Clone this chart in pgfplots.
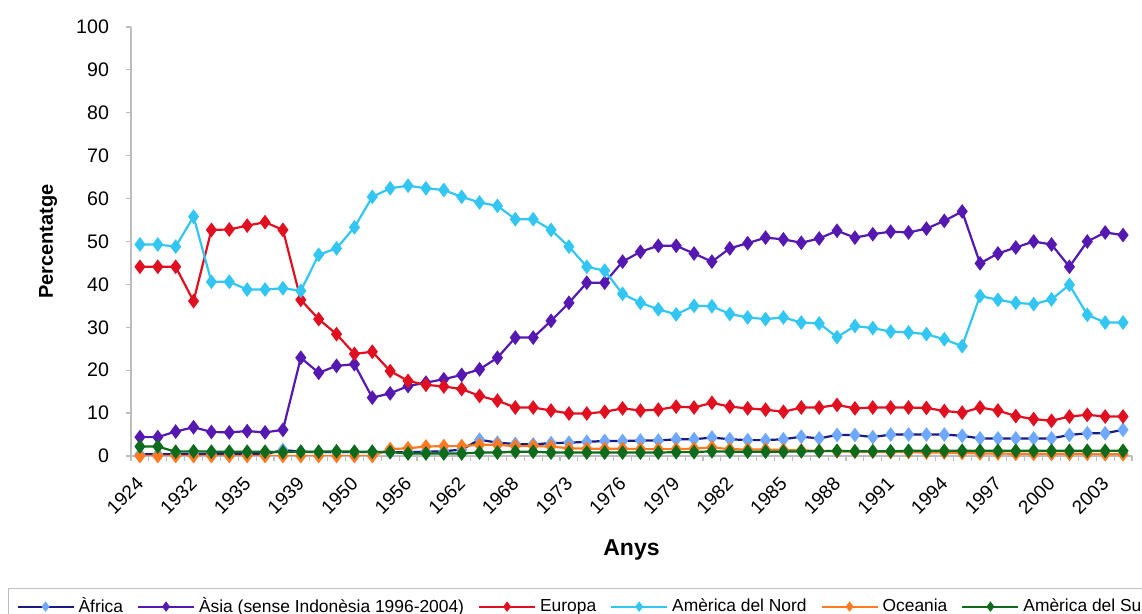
\documentclass[border=0pt]{standalone}
\usepackage{fontspec}
\setmainfont{Liberation Sans}
\usepackage{pgfplots}
\usepackage{pgfplotstable}
\pgfplotsset{compat=1.18}
\definecolor{afline}{HTML}{1A1A80}
\definecolor{afmark}{HTML}{6FA8FF}
\definecolor{asia}{HTML}{5518B0}
\definecolor{euro}{HTML}{E01020}
\definecolor{nord}{HTML}{33C6F2}
\definecolor{ocea}{HTML}{FF7A22}
\definecolor{sud}{HTML}{0E6B1C}
\definecolor{axgray}{HTML}{BDBDBD}

\pgfplotstableread{
x af as eu na oc sa
0 0.4 4.4 44.1 49.3 0.0 2.2
1 0.4 4.4 44.1 49.3 0.0 2.2
2 0.4 5.7 44.1 48.8 0.0 1.0
3 0.4 6.7 36.1 55.8 0.0 1.1
4 0.4 5.6 52.7 40.6 0.0 1.0
5 0.4 5.5 52.8 40.6 0.0 1.0
6 0.4 5.8 53.7 38.8 0.0 1.0
7 0.4 5.5 54.5 38.8 0.0 1.0
8 1.4 6.1 52.7 39.1 0.0 0.9
9 1.0 22.9 36.4 38.5 0.0 1.0
10 0.9 19.4 31.9 46.9 0.0 1.0
11 0.9 21.0 28.4 48.4 0.0 1.1
12 0.9 21.4 23.8 53.3 0.0 1.0
13 0.9 13.6 24.3 60.4 0.0 1.0
14 0.9 14.6 19.8 62.4 1.6 0.9
15 0.9 16.3 17.5 63.0 1.8 0.6
16 1.0 17.1 16.6 62.4 2.2 0.6
17 1.1 17.9 16.2 62.0 2.3 0.6
18 1.5 18.9 15.6 60.4 2.3 0.6
19 3.8 20.2 14.0 59.1 2.6 0.8
20 3.1 22.9 12.9 58.3 2.6 0.8
21 2.8 27.6 11.3 55.2 2.3 1.0
22 2.7 27.6 11.3 55.2 2.3 1.0
23 3.0 31.5 10.6 52.7 2.2 0.8
24 3.1 35.7 9.9 48.8 1.8 0.8
25 3.3 40.4 9.9 44.1 1.7 0.8
26 3.5 40.4 10.3 43.2 1.7 0.8
27 3.5 45.3 11.1 37.8 1.7 0.8
28 3.6 47.6 10.6 35.7 1.6 0.8
29 3.6 49.0 10.8 34.2 1.6 0.8
30 3.9 49.0 11.5 33.0 1.6 0.9
31 3.9 47.2 11.3 35.0 1.7 0.9
32 4.3 45.3 12.4 34.9 2.0 1.1
33 3.9 48.4 11.5 33.1 1.6 1.0
34 3.7 49.6 11.1 32.3 1.5 1.0
35 3.7 50.9 10.8 31.9 1.5 1.0
36 3.9 50.5 10.3 32.3 1.4 1.0
37 4.5 49.7 11.3 31.1 1.3 1.1
38 4.1 50.7 11.3 30.9 1.2 1.1
39 4.9 52.5 11.9 27.7 1.1 1.2
40 4.9 50.9 11.1 30.3 1.0 1.1
41 4.4 51.7 11.3 29.8 1.0 1.1
42 5.0 52.3 11.3 29.0 0.9 1.1
43 5.0 52.1 11.3 28.8 0.9 1.2
44 5.0 53.0 11.2 28.4 0.8 1.2
45 5.0 54.8 10.5 27.2 0.8 1.2
46 4.7 57.0 10.1 25.6 0.7 1.2
47 4.1 44.9 11.3 37.3 0.6 1.2
48 4.1 47.2 10.6 36.4 0.6 1.2
49 4.1 48.6 9.3 35.7 0.5 1.2
50 4.1 50.0 8.6 35.4 0.5 1.2
51 4.1 49.3 8.2 36.5 0.5 1.2
52 4.9 44.1 9.2 39.9 0.5 1.2
53 5.3 50.0 9.6 32.9 0.5 1.2
54 5.3 52.1 9.2 31.1 0.4 1.2
55 6.1 51.5 9.2 31.1 0.4 1.2
}\data

\begin{document}
\begin{tikzpicture}
\begin{axis}[
  at={(0,0)}, anchor=south west,
  scale only axis, width=500.5pt, height=214.5pt,
  xmin=-0.5, xmax=55.5, ymin=0, ymax=100,
  axis x line*=bottom, axis y line*=left,
  axis line style={draw=axgray, line width=0.6pt},
  xtick={0,3,...,54},
  xticklabels={1924,1932,1935,1939,1950,1956,1962,1968,1973,1976,1979,1982,1985,1988,1991,1994,1997,2000,2003},
  minor xtick={-0.5,0.5,...,55.5},
  ytick={0,10,...,100},
  xtick pos=left, ytick pos=left,
  tick align=outside,
  major tick length=2.5pt, minor tick length=2.5pt,
  major x tick style={draw=none},
  minor x tick style={draw=axgray, line width=0.6pt},
  major y tick style={draw=axgray, line width=0.6pt},
  /pgf/number format/assume math mode=true,
  yticklabel style={font=\fontsize{9.8}{11}\selectfont, xshift=-5pt},
  xticklabel style={font=\fontsize{9.5}{11}\selectfont, rotate=45, anchor=east, xshift=-3.5pt, yshift=-7pt},
  xlabel={\bfseries Anys},
  xlabel style={font=\fontsize{11.5}{13}\selectfont, at={(axis description cs:0.5,-0.219)}, anchor=center},
  ylabel={\bfseries Percentatge},
  ylabel style={font=\fontsize{10}{12}\selectfont, at={(axis description cs:-0.0829,0.5)}, anchor=center, rotate=0},
  every axis plot/.append style={line width=1.1pt, mark=diamond*, mark size=2.8pt},
  legend columns=-1,
  legend style={at={(-0.1229,-0.3077)}, anchor=north west, draw=axgray, line width=0.6pt,
    font=\fontsize{8.7}{10}\selectfont, inner xsep=4pt, inner ysep=2.5pt,
    nodes={inner ysep=2pt},
    /tikz/every even column/.append style={column sep=5pt}},
  legend image code/.code={\draw[#1, line width=1pt, mark size=1.8pt, mark repeat=2, mark phase=2] plot coordinates {(0pt,0pt) (14pt,0pt) (28pt,0pt)};},
]
\addplot[color=afline, mark options={fill=afmark, draw=afmark}] table[x=x, y=af] {\data};
\addlegendentry{Àfrica}
\addplot[color=asia, mark options={fill=asia}] table[x=x, y=as] {\data};
\addlegendentry{Àsia (sense Indonèsia 1996-2004)}
\addplot[color=euro, mark options={fill=euro}] table[x=x, y=eu] {\data};
\addlegendentry{Europa}
\addplot[color=nord, mark options={fill=nord}] table[x=x, y=na] {\data};
\addlegendentry{Amèrica del Nord}
\addplot[color=ocea, mark options={fill=ocea}] table[x=x, y=oc] {\data};
\addlegendentry{Oceania}
\addplot[color=sud, mark options={fill=sud}] table[x=x, y=sa] {\data};
\addlegendentry{Amèrica del Sud}
\end{axis}
\pgfresetboundingbox
\path (-65.5pt,-79pt) rectangle (505.5pt,228pt);
\end{tikzpicture}
\end{document}
